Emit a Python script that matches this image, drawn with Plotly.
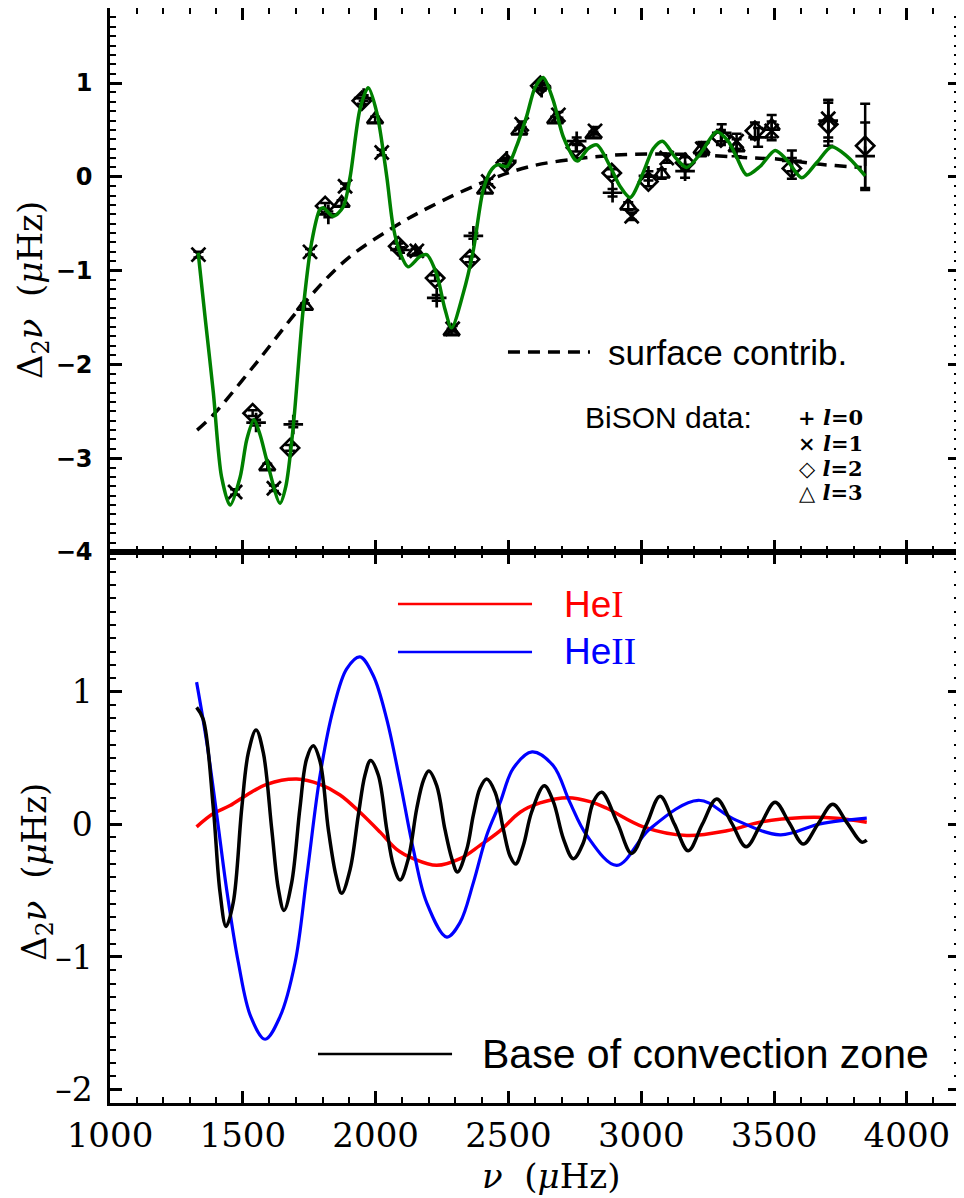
import plotly.graph_objects as go

# ---------------- data: top panel (BiSON second differences) ----------------
l0_nu = [1550, 1690, 1822, 1955, 2092, 2230, 2368, 2494, 2625, 2757, 2892, 3027, 3165, 3303, 3440, 3567, 3704, 3843]
l0_d = [-2.62, -2.64, -0.40, 0.84, -0.78, -1.29, -0.63, 0.17, 0.95, 0.38, -0.17, 0.01, 0.06, 0.47, 0.42, 0.17, 0.60, 0.22]
l0_e = [0.03, 0.03, 0.03, 0.03, 0.03, 0.03, 0.03, 0.03, 0.03, 0.04, 0.04, 0.05, 0.07, 0.09, 0.10, 0.11, 0.22, 0.36]

l1_nu = [1333, 1471, 1617, 1753, 1885, 2023, 2155, 2290, 2424, 2550, 2688, 2826, 2964, 3096, 3230, 3359, 3491, 3704]
l1_d = [-0.83, -3.36, -3.32, -0.80, -0.10, 0.26, -0.79, -1.62, -0.05, 0.56, 0.66, 0.49, -0.42, 0.20, 0.30, 0.38, 0.49, 0.62]
l1_e = [0.03, 0.03, 0.03, 0.03, 0.03, 0.03, 0.03, 0.03, 0.03, 0.03, 0.03, 0.04, 0.04, 0.05, 0.07, 0.08, 0.10, 0.20]

l2_nu = [1537, 1678, 1810, 1948, 2085, 2224, 2355, 2490, 2620, 2754, 2889, 3027, 3165, 3300, 3428, 3567, 3704, 3843]
l2_d = [-2.52, -2.89, -0.31, 0.81, -0.74, -1.08, -0.88, 0.15, 0.97, 0.31, 0.04, -0.05, 0.15, 0.42, 0.49, 0.09, 0.56, 0.33]
l2_e = [0.03, 0.03, 0.03, 0.03, 0.03, 0.03, 0.03, 0.03, 0.03, 0.04, 0.04, 0.05, 0.06, 0.08, 0.09, 0.11, 0.23, 0.45]

l3_nu = [1592, 1734, 1872, 1998, 2150, 2286, 2412, 2541, 2676, 2820, 2951, 3077, 3227, 3359, 3491]
l3_d = [-3.09, -1.38, -0.28, 0.61, -0.80, -1.65, -0.14, 0.49, 0.61, 0.45, -0.31, 0.03, 0.29, 0.31, 0.54]
l3_e = [0.03, 0.03, 0.03, 0.03, 0.03, 0.03, 0.03, 0.03, 0.03, 0.03, 0.04, 0.05, 0.07, 0.09, 0.12]

fit_nu = [1332, 1360, 1389, 1420, 1452, 1490, 1515, 1542, 1565, 1590, 1640, 1662, 1690, 1727, 1759,
          1790, 1803, 1840, 1878, 1904, 1941, 1972, 2004, 2042, 2066, 2092, 2122, 2167, 2192, 2230,
          2260, 2286, 2330, 2368, 2405, 2437, 2461, 2494, 2531, 2569, 2600, 2631, 2668, 2706, 2751,
          2762, 2800, 2833, 2883, 2920, 2958, 3008, 3045, 3080, 3130, 3171, 3221, 3284, 3327, 3359,
          3397, 3447, 3504, 3548, 3604, 3660, 3717, 3774, 3843]
fit_d = [-0.81, -1.55, -2.30, -3.20, -3.50, -3.20, -2.80, -2.59, -2.75, -3.02, -3.48, -3.30, -2.66, -1.42, -0.70,
         -0.35, -0.33, -0.42, -0.32, 0.00, 0.72, 0.95, 0.69, 0.00, -0.53, -0.81, -0.96, -0.85, -0.83, -1.04,
         -1.40, -1.61, -1.24, -0.78, -0.14, 0.08, 0.13, 0.11, 0.33, 0.65, 0.95, 1.06, 0.82, 0.43, 0.18,
         0.17, 0.30, 0.34, 0.11, -0.10, -0.22, 0.05, 0.30, 0.38, 0.20, 0.10, 0.24, 0.48, 0.38, 0.21,
         0.02, 0.11, 0.28, 0.18, -0.01, 0.15, 0.32, 0.22, 0.01]

surf_nu = [1328, 1388, 1552, 1727, 1891, 2066, 2205, 2404, 2581, 2781, 2958, 3157, 3430, 3510, 3650, 3730, 3830]
surf_d = [-2.70, -2.54, -1.98, -1.36, -0.88, -0.54, -0.32, -0.06, 0.11, 0.20, 0.24, 0.24, 0.20, 0.19, 0.14, 0.12, 0.10]

# ---------------- data: bottom panel (model components) ----------------
bcz_nu = [1326, 1351, 1389, 1414, 1437, 1464, 1496, 1521, 1550, 1577, 1609, 1634, 1655, 1684, 1715,
          1740, 1765, 1791, 1822, 1851, 1872, 1904, 1935, 1960, 1981, 2010, 2042, 2067, 2092, 2123,
          2155, 2180, 2200, 2230, 2261, 2287, 2308, 2343, 2368, 2393, 2418, 2450, 2481, 2506, 2527,
          2556, 2587, 2635, 2669, 2707, 2744, 2782, 2820, 2851, 2910, 2964, 3020, 3071, 3125, 3177,
          3230, 3284, 3340, 3395, 3450, 3504, 3557, 3610, 3665, 3721, 3775, 3830, 3849]
bcz_d = [0.88, 0.79, 0.12, -0.51, -0.77, -0.59, 0.12, 0.54, 0.71, 0.54, -0.04, -0.49, -0.65, -0.44, 0.12,
         0.49, 0.59, 0.47, -0.04, -0.39, -0.52, -0.34, 0.07, 0.37, 0.48, 0.37, -0.04, -0.31, -0.42, -0.26,
         0.12, 0.33, 0.40, 0.29, -0.04, -0.26, -0.36, -0.19, 0.07, 0.27, 0.34, 0.24, -0.04, -0.24, -0.30,
         -0.16, 0.09, 0.29, 0.17, -0.11, -0.26, -0.14, 0.17, 0.24, 0.01, -0.22, 0.00, 0.21, 0.00, -0.20,
         0.00, 0.19, 0.01, -0.17, 0.00, 0.165, 0.01, -0.15, 0.00, 0.15, 0.01, -0.135, -0.12]

he1_nu = [1326, 1389, 1452, 1515, 1590, 1703, 1791, 1866, 1941, 2017, 2079, 2142, 2230, 2318, 2393,
          2468, 2544, 2619, 2725, 2807, 2870, 3008, 3171, 3322, 3447, 3610, 3736, 3849]
he1_d = [-0.02, 0.08, 0.14, 0.22, 0.30, 0.34, 0.30, 0.22, 0.09, -0.06, -0.19, -0.26, -0.31, -0.26, -0.16,
         -0.05, 0.09, 0.16, 0.20, 0.17, 0.12, -0.02, -0.085, -0.05, 0.015, 0.05, 0.045, 0.015]

he2_nu = [1326, 1364, 1402, 1439, 1483, 1530, 1584, 1640, 1697, 1741, 1791, 1841, 1891, 1941, 1991,
          2042, 2092, 2142, 2192, 2268, 2318, 2368, 2418, 2468, 2518, 2589, 2669, 2730, 2795, 2908,
          3033, 3215, 3347, 3523, 3673, 3849]
he2_d = [1.07, 0.62, 0.07, -0.49, -1.04, -1.45, -1.62, -1.45, -1.04, -0.39, 0.37, 0.87, 1.17, 1.26, 1.12,
         0.79, 0.32, -0.19, -0.59, -0.85, -0.74, -0.44, -0.085, 0.16, 0.42, 0.545, 0.44, 0.17, -0.085, -0.31,
         -0.035, 0.18, 0.04, -0.08, 0.002, 0.045]

x_ticks = [1000, 1500, 2000, 2500, 3000, 3500, 4000]
top_yticks = [-4, -3, -2, -1, 0, 1]
bot_yticks = [-2, -1, 0, 1]
bot_yticklabels = ["–2", "–1", "0", "1"]

# ---------------- figure ----------------
fig = go.Figure()

def pts(nu, d, e, symbol, name):
    return go.Scatter(
        x=nu, y=d, mode="markers", name=name, xaxis="x2", yaxis="y2",
        marker=dict(symbol=symbol, size=14, color="black",
                    line=dict(color="black", width=2.7)),
        error_y=dict(type="data", array=e, visible=True, color="black",
                     thickness=2.5, width=5),
        showlegend=False)

fig.add_trace(go.Scatter(x=surf_nu, y=surf_d, mode="lines", xaxis="x2", yaxis="y2",
                         line=dict(color="black", width=3.5, dash="12px,8px", shape="spline", smoothing=1.0),
                         showlegend=False))
fig.add_trace(pts(l0_nu, l0_d, l0_e, "cross-thin", "l=0"))
fig.add_trace(pts(l1_nu, l1_d, l1_e, "x-thin", "l=1"))
fig.add_trace(pts(l2_nu, l2_d, l2_e, "diamond-open", "l=2"))
fig.add_trace(pts(l3_nu, l3_d, l3_e, "triangle-up-open", "l=3"))
fig.add_trace(go.Scatter(x=fit_nu, y=fit_d, mode="lines", xaxis="x2", yaxis="y2",
                         line=dict(color="#008000", width=3.5, shape="spline", smoothing=0.8),
                         showlegend=False))

fig.add_trace(go.Scatter(x=he1_nu, y=he1_d, mode="lines", xaxis="x", yaxis="y",
                         line=dict(color="#ff0000", width=3.5, shape="spline", smoothing=1.0),
                         showlegend=False))
fig.add_trace(go.Scatter(x=he2_nu, y=he2_d, mode="lines", xaxis="x", yaxis="y",
                         line=dict(color="#0000ff", width=3.2, shape="spline", smoothing=1.0),
                         showlegend=False))
fig.add_trace(go.Scatter(x=bcz_nu, y=bcz_d, mode="lines", xaxis="x", yaxis="y",
                         line=dict(color="black", width=3.5, shape="spline", smoothing=1.0),
                         showlegend=False))

SPLIT = 0.5032

def axstyle(**kw):
    d = dict(showline=True, linecolor="black", linewidth=2.5, mirror="allticks",
             ticks="inside", ticklen=12, tickwidth=2.5, tickcolor="black",
             showgrid=False, zeroline=False, automargin=False)
    d.update(kw)
    return d

serif = "DejaVu Serif"
# page body has an 8px margin: figure drawn 8px right/down, so size and margins compensate
fig.update_layout(
    width=956, height=1190,
    margin=dict(l=102, r=4, t=0, b=95, pad=0, autoexpand=False),
    paper_bgcolor="white", plot_bgcolor="white",
    showlegend=False,
    xaxis=axstyle(range=[1000, 4200], anchor="y", tickvals=x_ticks,
                  tickfont=dict(family=serif, size=34, color="black"),
                  ticklabelstandoff=0,
                  minor=dict(ticks="inside", ticklen=6, tickwidth=2, tickcolor="black", dtick=100)),
    yaxis=axstyle(range=[-2.1, 2.05], domain=[0, SPLIT], anchor="x", tickvals=bot_yticks,
                  ticktext=bot_yticklabels,
                  tickfont=dict(family=serif, size=33, color="black"),
                  ticklabelstandoff=8,
                  minor=dict(ticks="inside", ticklen=6, tickwidth=2, tickcolor="black", dtick=0.1)),
    xaxis2=axstyle(range=[1000, 4200], anchor="y2", matches="x", tickvals=x_ticks,
                   showticklabels=False,
                   minor=dict(ticks="inside", ticklen=6, tickwidth=2, tickcolor="black", dtick=100)),
    yaxis2=axstyle(range=[-4, 1.8], domain=[SPLIT, 1], anchor="x2", tickvals=top_yticks,
                   tickfont=dict(family="DejaVu Sans", size=24, color="black", weight="bold"),
                   ticklabelstandoff=10,
                   minor=dict(ticks="inside", ticklen=6, tickwidth=2, tickcolor="black", dtick=0.1)),
)

# legend-like decorations
shapes = [
    dict(type="line", xref="paper", yref="paper", x0=0.4682, x1=0.5647, y0=0.6858, y1=0.6858,
         line=dict(color="black", width=3.5, dash="12px,8px")),
    dict(type="line", xref="paper", yref="paper", x0=0.3388, x1=0.4965, y0=0.4557, y1=0.4557,
         line=dict(color="#ff0000", width=2.5)),
    dict(type="line", xref="paper", yref="paper", x0=0.3388, x1=0.4965, y0=0.4119, y1=0.4119,
         line=dict(color="#0000ff", width=2.5)),
    dict(type="line", xref="paper", yref="paper", x0=0.2447, x1=0.4024, y0=0.0447, y1=0.0447,
         line=dict(color="black", width=2.5)),
]
fig.update_layout(shapes=shapes)

sans = "Liberation Sans"
lfont = dict(family=serif, size=21, color="black", weight="bold")
ann = [
    dict(text="surface contrib.", x=0.5835, y=0.6858, xanchor="left", yanchor="middle",
         font=dict(family=sans, size=35, color="black")),
    dict(text="BiSON data:", x=0.5565, y=0.6256, xanchor="left", yanchor="middle",
         font=dict(family=sans, size=30, color="black")),
    dict(text="+ <i>l</i>=0", x=0.888, y=0.6256, xanchor="right", yanchor="middle", font=lfont),
    dict(text="× <i>l</i>=1", x=0.888, y=0.6027, xanchor="right", yanchor="middle", font=lfont),
    dict(text="◇ <i>l</i>=2", x=0.888, y=0.5799, xanchor="right", yanchor="middle", font=lfont),
    dict(text="△ <i>l</i>=3", x=0.888, y=0.5571, xanchor="right", yanchor="middle", font=lfont),
    dict(text="He<span style='font-family:Liberation Serif'>I</span>", x=0.5318, y=0.4557,
         xanchor="left", yanchor="middle", font=dict(family=sans, size=37, color="#ff0000")),
    dict(text="He<span style='font-family:Liberation Serif'>II</span>", x=0.5318, y=0.4119,
         xanchor="left", yanchor="middle", font=dict(family=sans, size=37, color="#0000ff")),
    dict(text="Base of convection zone", x=0.4353, y=0.0447, xanchor="left", yanchor="middle",
         font=dict(family=sans, size=41, color="black")),
    dict(text="<i>ν</i>  (<i>μ</i>Hz)", x=0.519, y=-0.0665, xanchor="center", yanchor="middle",
         font=dict(family=serif, size=34, color="black")),
    dict(text="Δ<sub>2</sub><i>ν</i>  (<i>μ</i>Hz)", x=-0.0906, y=0.7425, xanchor="center",
         yanchor="middle", textangle=-90, font=dict(family=serif, size=34, color="black")),
    dict(text="Δ<sub>2</sub><i>ν</i>  (<i>μ</i>Hz)", x=-0.0860, y=0.211, xanchor="center",
         yanchor="middle", textangle=-90, font=dict(family=serif, size=34, color="black")),
]
for a in ann:
    a.update(xref="paper", yref="paper", showarrow=False)
fig.update_layout(annotations=ann)

fig.write_html("out.html")
